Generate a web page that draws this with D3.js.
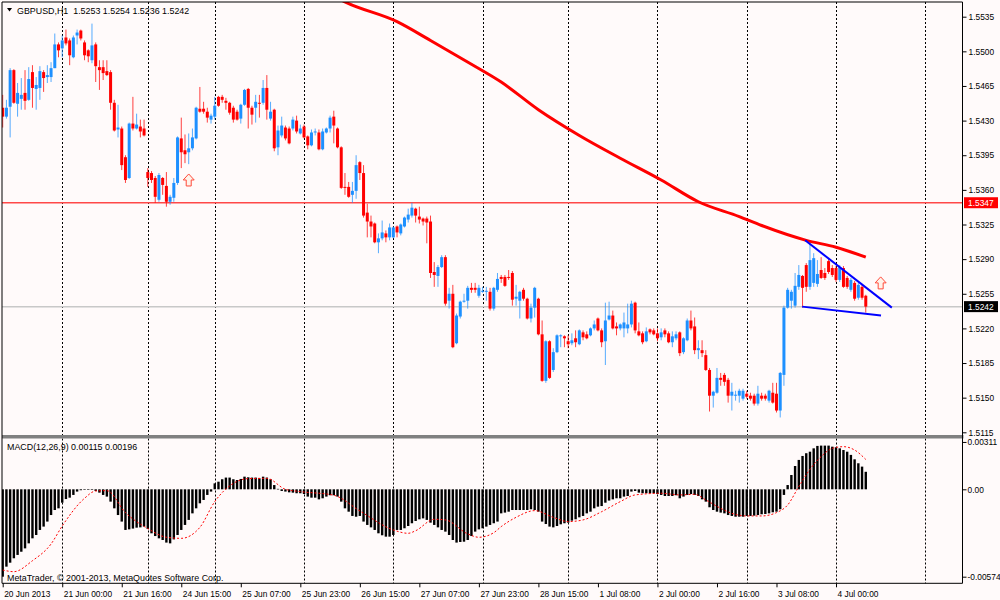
<!DOCTYPE html>
<html>
<head>
<meta charset="utf-8">
<script src="https://cdn.jsdelivr.net/npm/d3@7"></script>
<style>
  body { margin: 0; background: #fffafa; }
  text { font-family: "Liberation Sans", Arial, sans-serif; font-size: 8.4px; fill: #000; }
  text.lbl { font-size: 8.9px; }
</style>
</head>
<body>
<div id="chart"></div>
<script>
// GBPUSD H1 candles, bar 0 = 20 Jun 2013 08:00
const opens = [
1.5443,1.5434,1.5444,1.5481,1.5447,1.5452,1.5458,1.5451,1.5479,1.5462,
1.5463,1.5479,1.5474,1.5474,1.5483,1.5507,1.5503,1.5514,1.5511,1.5494,
1.5516,1.5521,1.5509,1.5501,1.5491,1.5507,1.5484,1.5484,1.5480,1.5479,
1.5448,1.5421,1.5422,1.5393,1.5372,1.5427,1.5422,1.5424,1.5422,1.5378,
1.5377,1.5372,1.5350,1.5372,1.5364,1.5348,1.5352,1.5367,1.5412,1.5400,
1.5398,1.5402,1.5412,1.5442,1.5442,1.5439,1.5431,1.5434,1.5454,1.5454,
1.5450,1.5448,1.5443,1.5439,1.5432,1.5446,1.5462,1.5443,1.5443,1.5448,
1.5448,1.5463,1.5432,1.5441,1.5403,1.5415,1.5423,1.5422,1.5422,1.5430,
1.5417,1.5424,1.5414,1.5405,1.5418,1.5418,1.5401,1.5418,1.5422,1.5434,
1.5422,1.5403,1.5363,1.5363,1.5355,1.5359,1.5388,1.5377,1.5337,1.5328,
1.5326,1.5307,1.5311,1.5316,1.5312,1.5312,1.5323,1.5316,1.5323,1.5330,
1.5334,1.5341,1.5333,1.5331,1.5331,1.5328,1.5277,1.5273,1.5282,1.5292,
1.5248,1.5255,1.5205,1.5232,1.5247,1.5248,1.5261,1.5261,1.5253,1.5257,
1.5257,1.5257,1.5240,1.5259,1.5272,1.5272,1.5272,1.5276,1.5250,1.5248,
1.5259,1.5250,1.5230,1.5241,1.5250,1.5214,1.5167,1.5207,1.5178,1.5196,
1.5212,1.5212,1.5207,1.5205,1.5210,1.5204,1.5216,1.5214,1.5213,1.5220,
1.5230,1.5218,1.5207,1.5229,1.5233,1.5222,1.5220,1.5220,1.5220,1.5224,
1.5246,1.5217,1.5215,1.5207,1.5219,1.5218,1.5215,1.5211,1.5218,1.5215,
1.5206,1.5210,1.5216,1.5196,1.5208,1.5228,1.5222,1.5198,1.5198,1.5193,
1.5178,1.5152,1.5155,1.5170,1.5173,1.5168,1.5152,1.5152,1.5152,1.5149,
1.5154,1.5152,1.5152,1.5144,1.5152,1.5152,1.5147,1.5155,1.5154,1.5137,
1.5173,1.5241,1.5248,1.5243,1.5262,1.5273,1.5284,1.5262,1.5266,1.5265,
1.5279,1.5276,1.5288,1.5281,1.5281,1.5269,1.5281,1.5271,1.5259,1.5266,
1.5251,1.5262,1.5253];
const highs = [
1.5456,1.5451,1.5483,1.5482,1.5468,1.5473,1.5481,1.5484,1.5486,1.5474,
1.5485,1.5481,1.5486,1.5489,1.5518,1.5509,1.5516,1.5522,1.5513,1.5516,
1.5522,1.5522,1.5511,1.5502,1.5528,1.5509,1.5491,1.5491,1.5491,1.5481,
1.5451,1.5446,1.5424,1.5395,1.5428,1.5454,1.5437,1.5431,1.5431,1.5382,
1.5379,1.5374,1.5377,1.5373,1.5378,1.5355,1.5372,1.5414,1.5433,1.5416,
1.5417,1.5422,1.5444,1.5464,1.5449,1.5443,1.5437,1.5454,1.5455,1.5456,
1.5453,1.5449,1.5445,1.5441,1.5447,1.5462,1.5463,1.5445,1.5456,1.5456,
1.5471,1.5476,1.5449,1.5442,1.5425,1.5434,1.5425,1.5424,1.5434,1.5435,
1.5426,1.5426,1.5415,1.5421,1.5422,1.5421,1.5422,1.5423,1.5435,1.5440,
1.5423,1.5404,1.5377,1.5368,1.5368,1.5395,1.5389,1.5385,1.5346,1.5334,
1.5327,1.5316,1.5329,1.5319,1.5326,1.5323,1.5324,1.5326,1.5333,1.5341,
1.5347,1.5342,1.5343,1.5332,1.5333,1.5334,1.5287,1.5284,1.5294,1.5294,
1.5261,1.5264,1.5235,1.5248,1.5255,1.5263,1.5266,1.5266,1.5264,1.5262,
1.5262,1.5261,1.5262,1.5276,1.5274,1.5274,1.5279,1.5278,1.5264,1.5258,
1.5261,1.5251,1.5245,1.5262,1.5251,1.5228,1.5208,1.5208,1.5200,1.5214,
1.5214,1.5213,1.5213,1.5215,1.5218,1.5219,1.5218,1.5217,1.5221,1.5228,
1.5231,1.5220,1.5246,1.5247,1.5238,1.5226,1.5225,1.5236,1.5245,1.5248,
1.5247,1.5226,1.5217,1.5221,1.5220,1.5220,1.5220,1.5220,1.5220,1.5217,
1.5217,1.5217,1.5217,1.5211,1.5230,1.5238,1.5231,1.5208,1.5208,1.5198,
1.5180,1.5157,1.5180,1.5175,1.5175,1.5170,1.5165,1.5157,1.5159,1.5159,
1.5157,1.5155,1.5154,1.5162,1.5155,1.5154,1.5158,1.5165,1.5165,1.5176,
1.5243,1.5261,1.5259,1.5276,1.5284,1.5274,1.5286,1.5306,1.5296,1.5289,
1.5292,1.5281,1.5290,1.5284,1.5283,1.5284,1.5283,1.5273,1.5271,1.5268,
1.5266,1.5264,1.5254];
const lows = [
1.5423,1.5432,1.5413,1.5447,1.5434,1.5441,1.5441,1.5450,1.5443,1.5441,
1.5451,1.5459,1.5468,1.5469,1.5483,1.5494,1.5494,1.5506,1.5486,1.5493,
1.5507,1.5511,1.5491,1.5489,1.5488,1.5469,1.5461,1.5471,1.5475,1.5441,
1.5419,1.5413,1.5380,1.5367,1.5371,1.5420,1.5421,1.5413,1.5414,1.5363,
1.5367,1.5347,1.5348,1.5355,1.5343,1.5345,1.5348,1.5365,1.5382,1.5387,
1.5386,1.5400,1.5411,1.5438,1.5437,1.5428,1.5427,1.5431,1.5444,1.5448,
1.5441,1.5436,1.5428,1.5430,1.5427,1.5445,1.5422,1.5426,1.5428,1.5433,
1.5446,1.5431,1.5430,1.5399,1.5395,1.5413,1.5410,1.5406,1.5420,1.5417,
1.5416,1.5412,1.5401,1.5404,1.5415,1.5400,1.5400,1.5417,1.5418,1.5407,
1.5402,1.5361,1.5355,1.5352,1.5347,1.5351,1.5370,1.5332,1.5312,1.5312,
1.5306,1.5296,1.5309,1.5307,1.5309,1.5311,1.5312,1.5314,1.5322,1.5327,
1.5332,1.5327,1.5326,1.5324,1.5306,1.5271,1.5262,1.5262,1.5281,1.5243,
1.5240,1.5200,1.5204,1.5230,1.5246,1.5240,1.5256,1.5256,1.5251,1.5256,
1.5248,1.5238,1.5238,1.5257,1.5266,1.5262,1.5269,1.5243,1.5243,1.5230,
1.5248,1.5229,1.5226,1.5231,1.5213,1.5166,1.5165,1.5169,1.5176,1.5195,
1.5201,1.5201,1.5200,1.5203,1.5201,1.5203,1.5208,1.5209,1.5212,1.5218,
1.5217,1.5201,1.5183,1.5228,1.5219,1.5213,1.5218,1.5211,1.5215,1.5221,
1.5215,1.5212,1.5204,1.5206,1.5214,1.5213,1.5207,1.5208,1.5211,1.5205,
1.5201,1.5208,1.5192,1.5194,1.5207,1.5218,1.5194,1.5189,1.5191,1.5177,
1.5136,1.5140,1.5154,1.5162,1.5162,1.5145,1.5137,1.5147,1.5145,1.5147,
1.5149,1.5147,1.5142,1.5142,1.5147,1.5147,1.5145,1.5144,1.5135,1.5130,
1.5162,1.5240,1.5240,1.5241,1.5259,1.5241,1.5257,1.5259,1.5262,1.5262,
1.5270,1.5269,1.5275,1.5272,1.5267,1.5267,1.5261,1.5260,1.5257,1.5248,
1.5249,1.5249,1.5236];
const closes = [
1.5434,1.5443,1.5481,1.5448,1.5458,1.5456,1.5450,1.5472,1.5463,1.5466,
1.5480,1.5473,1.5476,1.5483,1.5507,1.5501,1.5511,1.5508,1.5496,1.5514,
1.5519,1.5513,1.5496,1.5495,1.5506,1.5485,1.5481,1.5478,1.5476,1.5448,
1.5420,1.5423,1.5385,1.5370,1.5427,1.5422,1.5426,1.5419,1.5415,1.5372,
1.5370,1.5353,1.5375,1.5365,1.5348,1.5353,1.5367,1.5413,1.5398,1.5396,
1.5402,1.5413,1.5443,1.5439,1.5439,1.5433,1.5435,1.5445,1.5445,1.5451,
1.5448,1.5438,1.5431,1.5431,1.5446,1.5461,1.5443,1.5436,1.5449,1.5447,
1.5463,1.5441,1.5439,1.5402,1.5420,1.5425,1.5412,1.5407,1.5431,1.5419,
1.5422,1.5413,1.5405,1.5418,1.5419,1.5401,1.5419,1.5422,1.5433,1.5425,
1.5403,1.5362,1.5362,1.5353,1.5359,1.5385,1.5377,1.5334,1.5328,1.5323,
1.5307,1.5311,1.5317,1.5312,1.5322,1.5322,1.5317,1.5325,1.5332,1.5335,
1.5342,1.5334,1.5330,1.5328,1.5327,1.5276,1.5274,1.5282,1.5292,1.5245,
1.5255,1.5201,1.5233,1.5247,1.5248,1.5261,1.5259,1.5259,1.5261,1.5258,
1.5258,1.5240,1.5261,1.5270,1.5270,1.5263,1.5271,1.5249,1.5252,1.5257,
1.5250,1.5230,1.5241,1.5261,1.5214,1.5167,1.5207,1.5170,1.5196,1.5213,
1.5213,1.5210,1.5204,1.5208,1.5206,1.5218,1.5211,1.5210,1.5220,1.5224,
1.5218,1.5206,1.5228,1.5233,1.5220,1.5220,1.5224,1.5226,1.5224,1.5245,
1.5218,1.5213,1.5206,1.5217,1.5216,1.5214,1.5210,1.5216,1.5214,1.5206,
1.5212,1.5214,1.5195,1.5210,1.5228,1.5220,1.5198,1.5200,1.5195,1.5178,
1.5152,1.5156,1.5170,1.5168,1.5166,1.5152,1.5156,1.5153,1.5157,1.5157,
1.5151,1.5149,1.5144,1.5154,1.5149,1.5149,1.5157,1.5145,1.5137,1.5175,
1.5241,1.5259,1.5257,1.5263,1.5274,1.5261,1.5262,1.5289,1.5291,1.5275,
1.5271,1.5271,1.5277,1.5274,1.5269,1.5282,1.5262,1.5262,1.5269,1.5250,
1.5264,1.5251,1.5242];

// red moving average, read at a few bars
const maBars   = [88, 92, 106, 115, 126, 134, 144, 155, 166, 177, 187, 198, 204, 216, 224, 232];
const maPrices = [1.5558, 1.5550, 1.5530, 1.5511, 1.5487, 1.5469, 1.5441, 1.5415, 1.5392, 1.5370, 1.5348, 1.5333, 1.5324, 1.5309, 1.5302, 1.5292];

// MACD histogram, one per bar
const macdMain = [
-0.00574,-0.00508,-0.00482,-0.00453,-0.00431,-0.00410,-0.00388,-0.00355,-0.00322,-0.00300,
-0.00267,-0.00245,-0.00212,-0.00169,-0.00136,-0.00125,-0.00088,-0.00064,-0.00055,-0.00037,
-0.00015,-0.00006,-0.00003,-0.00002,-0.00004,-0.00011,-0.00022,-0.00037,-0.00048,-0.00081,
-0.00125,-0.00169,-0.00212,-0.00267,-0.00263,-0.00258,-0.00252,-0.00250,-0.00245,-0.00261,
-0.00289,-0.00307,-0.00322,-0.00333,-0.00350,-0.00355,-0.00329,-0.00300,-0.00267,-0.00234,
-0.00201,-0.00158,-0.00125,-0.00092,-0.00070,-0.00037,-0.00015,0.00039,0.00050,0.00066,
0.00077,0.00077,0.00066,0.00061,0.00068,0.00083,0.00079,0.00077,0.00077,0.00072,
0.00083,0.00077,0.00066,0.00028,0.00003,-0.00011,-0.00015,-0.00020,-0.00022,-0.00026,
-0.00026,-0.00031,-0.00048,-0.00055,-0.00055,-0.00066,-0.00059,-0.00048,-0.00039,-0.00039,
-0.00048,-0.00081,-0.00125,-0.00147,-0.00175,-0.00180,-0.00175,-0.00212,-0.00234,-0.00250,
-0.00267,-0.00289,-0.00302,-0.00311,-0.00311,-0.00300,-0.00267,-0.00267,-0.00256,-0.00241,
-0.00223,-0.00208,-0.00197,-0.00191,-0.00201,-0.00219,-0.00234,-0.00250,-0.00267,-0.00278,
-0.00300,-0.00333,-0.00350,-0.00346,-0.00344,-0.00333,-0.00307,-0.00278,-0.00263,-0.00256,
-0.00245,-0.00234,-0.00223,-0.00212,-0.00158,-0.00153,-0.00147,-0.00136,-0.00136,-0.00136,
-0.00136,-0.00136,-0.00131,-0.00136,-0.00147,-0.00212,-0.00228,-0.00245,-0.00250,-0.00241,
-0.00230,-0.00223,-0.00219,-0.00206,-0.00197,-0.00184,-0.00175,-0.00158,-0.00147,-0.00125,
-0.00114,-0.00110,-0.00088,-0.00074,-0.00066,-0.00059,-0.00059,-0.00048,-0.00044,-0.00015,
-0.00011,-0.00022,-0.00026,-0.00026,-0.00026,-0.00026,-0.00031,-0.00037,-0.00044,-0.00044,
-0.00044,-0.00039,-0.00059,-0.00048,-0.00037,-0.00031,-0.00037,-0.00044,-0.00066,-0.00081,
-0.00118,-0.00136,-0.00147,-0.00153,-0.00158,-0.00169,-0.00175,-0.00180,-0.00180,-0.00180,
-0.00175,-0.00175,-0.00173,-0.00169,-0.00164,-0.00162,-0.00158,-0.00151,-0.00147,-0.00131,
-0.00037,0.00028,0.00094,0.00153,0.00193,0.00219,0.00237,0.00247,0.00269,0.00285,
0.00287,0.00287,0.00287,0.00280,0.00276,0.00269,0.00258,0.00247,0.00226,0.00197,
0.00171,0.00149,0.00115];

// MACD signal line, read at a few bars
const signalBars = [0, 3, 8, 13, 16, 22, 25, 28, 33, 39, 44, 48, 53, 57, 62, 66, 71, 76, 80, 89, 96, 105, 109, 111, 116, 119, 125, 128, 132, 134, 138, 143, 148, 152, 156, 161, 166, 170, 177, 182, 186, 189, 193, 196, 200, 204, 208, 211, 214, 217, 220, 223, 226, 229, 232];
const signalVals = [-0.00530, -0.00541, -0.00469, -0.00359, -0.00241, -0.00059, -0.00011, -0.00009, -0.00153, -0.00258, -0.00315, -0.00322, -0.00250, -0.00081, 0.00039, 0.00070, 0.00072, 0.00000, -0.00015, -0.00039, -0.00142, -0.00267, -0.00289, -0.00272, -0.00197, -0.00201, -0.00293, -0.00315, -0.00285, -0.00245, -0.00184, -0.00140, -0.00184, -0.00212, -0.00201, -0.00147, -0.00081, -0.00037, -0.00026, -0.00037, -0.00033, -0.00070, -0.00125, -0.00158, -0.00175, -0.00175, -0.00153, -0.00103, 0.00018, 0.00131, 0.00215, 0.00269, 0.00280, 0.00258, 0.00196];

const priceTicks = [1.5535, 1.5500, 1.5465, 1.5430, 1.5395, 1.5360, 1.5325, 1.5290, 1.5255, 1.5220, 1.5185, 1.5150, 1.5115];
const macdTicks = [0.00311, 0, -0.00574];
const macdTickText = ["0.00311", "0.00", "-0.00574"];
const timeBars = [0, 16, 32, 48, 64, 80, 96, 112, 128, 144, 160, 176, 192, 208, 224];
const timeLabels = ["20 Jun 2013", "21 Jun 00:00", "21 Jun 16:00", "24 Jun 15:00", "25 Jun 07:00", "25 Jun 23:00",
  "26 Jun 15:00", "27 Jun 07:00", "27 Jun 23:00", "28 Jun 15:00", "1 Jul 08:00", "2 Jul 00:00",
  "2 Jul 16:00", "3 Jul 08:00", "4 Jul 00:00"];
const gridBars = [16, 39, 57, 81, 105, 129, 152, 176, 200, 224, 248];

const levelPrice = 1.5347;
const bidPrice = 1.5242;
const arrowBars = [50, 236];
const arrowPrices = [1.5370, 1.5266];
// two trend lines: [bar, price] start and end
const trendUpper = [[215.7, 1.5309], [239.0, 1.5241]];
const trendLower = [[214.9, 1.5242], [236.1, 1.5233]];

const svg = d3.select("#chart").append("svg")
  .attr("width", 1000)
  .attr("height", 600);

svg.append("rect").attr("width", 1000).attr("height", 600).attr("fill", "#fffafa");

const x = d3.scaleLinear().domain([0, 248]).range([2.7, 925.3]);
const y = d3.scaleLinear().domain([1.5115, 1.5535]).range([432.3, 16.7]);
const ym = d3.scaleLinear().domain([-0.00574, 0.00311]).range([576.7, 441.95]);

const plotL = 2, plotR = 962.5, plotT = 2, mainB = 435, macdT = 438.5, macdB = 583.3;

svg.append("clipPath").attr("id", "mainClip")
  .append("rect").attr("x", plotL).attr("y", plotT).attr("width", plotR - plotL).attr("height", mainB - plotT);
svg.append("clipPath").attr("id", "macdClip")
  .append("rect").attr("x", plotL).attr("y", macdT).attr("width", plotR - plotL).attr("height", macdB - macdT);

// vertical dotted grid
const grid = svg.append("g").attr("stroke", "#000").attr("stroke-dasharray", "2,2").attr("stroke-width", 1);
gridBars.forEach(b => {
  const gx = Math.round(x(b)) + 0.5;
  grid.append("line").attr("x1", gx).attr("x2", gx).attr("y1", plotT).attr("y2", mainB);
  grid.append("line").attr("x1", gx).attr("x2", gx).attr("y1", macdT).attr("y2", macdB);
});

const main = svg.append("g").attr("clip-path", "url(#mainClip)");

// horizontal level and bid line
main.append("line").attr("x1", plotL).attr("x2", plotR)
  .attr("y1", y(levelPrice)).attr("y2", y(levelPrice))
  .attr("stroke", "#ff4848").attr("stroke-width", 1.6);
main.append("line").attr("x1", plotL).attr("x2", plotR)
  .attr("y1", y(bidPrice)).attr("y2", y(bidPrice))
  .attr("stroke", "#c8c8c8").attr("stroke-width", 1.5);

// moving average
const maLine = d3.line().x(d => x(d[0])).y(d => y(d[1])).curve(d3.curveMonotoneX);
main.append("path")
  .datum(maBars.map((b, i) => [b, maPrices[i]]))
  .attr("d", maLine)
  .attr("fill", "none")
  .attr("stroke", "#f00")
  .attr("stroke-width", 3);

// candles
const candles = main.append("g");
opens.forEach((o, i) => {
  const c = closes[i];
  const col = c >= o ? "#1e90ff" : "#ff0000";
  const cx = x(i);
  candles.append("line")
    .attr("x1", cx).attr("x2", cx)
    .attr("y1", y(highs[i])).attr("y2", y(lows[i]))
    .attr("stroke", col).attr("stroke-width", 1).attr("stroke-opacity", 0.75);
  const yt = y(Math.max(o, c)), yb = y(Math.min(o, c));
  candles.append("rect")
    .attr("x", cx - 1.5).attr("width", 3)
    .attr("y", yt).attr("height", Math.max(1, yb - yt))
    .attr("fill", col);
});

// trend lines
[trendUpper, trendLower].forEach(t => {
  main.append("line")
    .attr("x1", x(t[0][0])).attr("y1", y(t[0][1]))
    .attr("x2", x(t[1][0])).attr("y2", y(t[1][1]))
    .attr("stroke", "#0000ff").attr("stroke-width", 2);
});

// up arrows
arrowBars.forEach((b, i) => {
  const ax = x(b), ay = y(arrowPrices[i]);
  const p = [[ax, ay - 6], [ax + 5.5, ay], [ax + 2.5, ay], [ax + 2.5, ay + 6],
             [ax - 2.5, ay + 6], [ax - 2.5, ay], [ax - 5.5, ay]];
  main.append("path")
    .attr("d", "M" + p.map(q => q.join(",")).join("L") + "Z")
    .attr("fill", "#fff3ea").attr("stroke", "#ff4a3a").attr("stroke-width", 1);
});

// MACD panel
const macd = svg.append("g").attr("clip-path", "url(#macdClip)");
macd.selectAll("rect.h")
  .data(macdMain)
  .enter()
  .append("rect")
  .attr("class", "h")
  .attr("x", (d, i) => x(i) - 1.2)
  .attr("width", 2.4)
  .attr("y", d => Math.min(ym(d), ym(0)))
  .attr("height", d => Math.max(0.6, Math.abs(ym(d) - ym(0))))
  .attr("fill", "#000");

const sigLine = d3.line().x(d => x(d[0])).y(d => ym(d[1])).curve(d3.curveMonotoneX);
macd.append("path")
  .datum(signalBars.map((b, i) => [b, signalVals[i]]))
  .attr("d", sigLine)
  .attr("fill", "none")
  .attr("stroke", "#ff0000")
  .attr("stroke-width", 1)
  .attr("stroke-dasharray", "2,2");

// separator and frame
svg.append("rect").attr("x", plotL).attr("y", mainB).attr("width", plotR - plotL + 1).attr("height", macdT - mainB)
  .attr("fill", "#808080");
svg.append("path")
  .attr("d", `M${plotL},${plotT}H${plotR}V${macdB}H${plotL}Z`)
  .attr("fill", "none").attr("stroke", "#000").attr("stroke-width", 1);

// price axis
const yAxis = d3.axisRight(y).tickValues(priceTicks).tickSize(4).tickPadding(2).tickFormat(d3.format(".4f"));
svg.append("g").attr("transform", `translate(${plotR},0)`).call(yAxis)
  .call(g => g.select(".domain").remove())
  .call(g => g.selectAll("text").attr("font-size", null).attr("font-family", null));

// price boxes
[[levelPrice, "#ff0000"], [bidPrice, "#000000"]].forEach(([p, col]) => {
  const by = y(p);
  svg.append("rect").attr("x", 964).attr("y", by - 5.5).attr("width", 34).attr("height", 11).attr("fill", col);
  svg.append("text").attr("x", 968).attr("y", by + 3).text(d3.format(".4f")(p)).style("fill", "#fff");
});

// MACD axis
const mAxis = d3.axisRight(ym).tickValues(macdTicks).tickSize(4).tickPadding(1)
  .tickFormat((d, i) => macdTickText[i]);
svg.append("g").attr("transform", `translate(${plotR},0)`).call(mAxis)
  .call(g => g.select(".domain").remove())
  .call(g => g.selectAll("text").attr("font-size", null).attr("font-family", null));

// time axis
const xAxis = d3.axisBottom(x).tickValues(timeBars).tickSize(4).tickPadding(4)
  .tickFormat((d, i) => timeLabels[i]);
svg.append("g").attr("transform", `translate(0,${macdB})`).call(xAxis)
  .call(g => g.select(".domain").remove())
  .call(g => g.selectAll("text").attr("text-anchor", "start").attr("dx", 1)
    .attr("font-size", null).attr("font-family", null));

// header texts
svg.append("path").attr("d", "M7,8L12,8L9.5,11.5Z").attr("fill", "#000");
svg.append("text").attr("class", "lbl").attr("x", 17).attr("y", 13.5).style("white-space", "pre")
  .text("GBPUSD,H1  1.5253 1.5254 1.5236 1.5242");
svg.append("text").attr("class", "lbl").attr("x", 7).attr("y", 449.5).text("MACD(12,26,9) 0.00115 0.00196");
svg.append("text").attr("class", "lbl").attr("x", 7).attr("y", 580.5).text("MetaTrader, © 2001-2013, MetaQuotes Software Corp.");
</script>
</body>
</html>
